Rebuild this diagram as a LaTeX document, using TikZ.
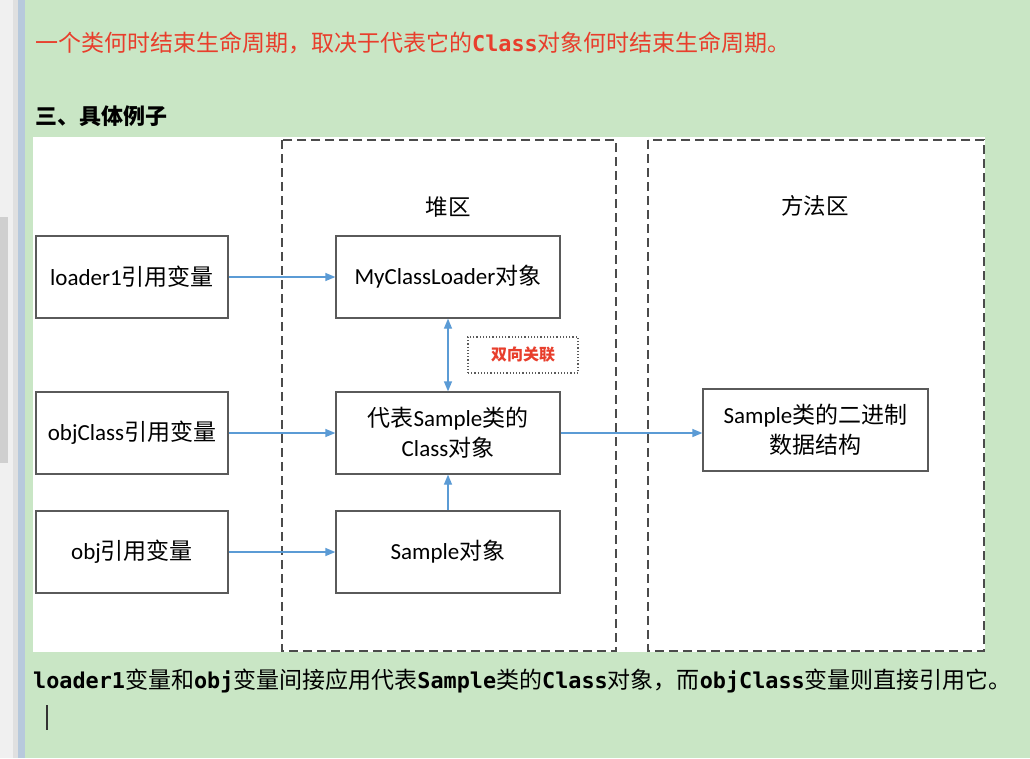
\documentclass[tikz,border=0pt]{standalone}
\usepackage{fontspec}
\setmainfont{Carlito}
\setmonofont{DejaVu Sans Mono}
\newfontfamily\cjk{Noto Sans CJK SC}
\usetikzlibrary{arrows.meta}
\definecolor{bggreen}{RGB}{201,230,197}
\definecolor{stripblue}{RGB}{183,201,220}
\definecolor{boxline}{RGB}{90,90,90}
\definecolor{dashline}{RGB}{75,75,75}
\definecolor{arrblue}{RGB}{91,155,213}
\definecolor{redtxt}{RGB}{232,62,44}
\newcommand{\zh}[1]{{\cjk #1}}
\newcommand{\mo}[1]{{\fontsize{21.8}{26}\selectfont\ttfamily\bfseries #1}}
\tikzset{
  membox/.style={draw=boxline, line width=1.3pt, fill=white, inner sep=0pt,
    minimum height=82pt, align=center, font=\fontsize{23}{30}\selectfont},
  varbox/.style={membox, minimum width=192pt},
  objbox/.style={membox, minimum width=224pt},
  area/.style={draw=dashline, line width=2.4pt, dash pattern=on 9pt off 5pt},
  arr/.style={draw=arrblue, line width=1.3pt, -{Triangle[length=10pt,width=8pt]}},
  arrboth/.style={draw=arrblue, line width=1.3pt, {Triangle[length=10pt,width=8pt]}-{Triangle[length=10pt,width=8pt]}},
  linetext/.style={anchor=west, inner sep=0pt, font=\fontsize{23}{28}\selectfont\cjk},
  arealabel/.style={font=\fontsize{22.5}{28}\selectfont\cjk, inner sep=0pt}
}
\begin{document}
\begin{tikzpicture}[x=1pt,y=-1pt]
\useasboundingbox (0,0) rectangle (1030,758);
% background
\fill[bggreen] (0,0) rectangle (1030,758);
\fill[white!94!black] (0,0) rectangle (13,758);
\fill[white!81!black] (0,217) rectangle (8,463);
\fill[white!88!black] (13,0) rectangle (18,758);
\fill[stripblue] (18,0) rectangle (25,758);
\fill[white] (33,137) rectangle (985,652);
% texts above and below
\node[linetext, text=redtxt] (t1) at (35,43) {一个类何时结束生命周期，取决于代表它的\mo{Class}对象何时结束生命周期。};
\node[linetext, font=\fontsize{22}{28}\selectfont\cjk\bfseries] (t2) at (35,116) {三、具体例子};
\node[linetext] (t3) at (33,681) {\mo{loader1}变量和\mo{obj}变量间接应用代表\mo{Sample}类的\mo{Class}对象，而\mo{objClass}变量则直接引用它。};
\coordinate (cur1) at (47,705);
\coordinate (cur2) at (47,730);
\draw[line width=1.5pt, black!80] (cur1) -- (cur2);
% areas
\draw[area] (282,140) rectangle (616,651);
\draw[area] (648,140) rectangle (984,651);
\node[arealabel] (heap) at (448,207) {堆区};
\node[arealabel] (meth) at (815,206) {方法区};
% variable boxes
\node[varbox] (l1) at (132,277) {loader1\zh{引用变量}};
\node[varbox] (oc) at (132,433) {objClass\zh{引用变量}};
\node[varbox] (ob) at (132,552) {obj\zh{引用变量}};
% heap objects
\node[objbox] (mcl) at (448,277) {MyClassLoader\zh{对象}};
\node[objbox] (cls) at (448,433) {\zh{代表}Sample\zh{类的}\\Class\zh{对象}};
\node[objbox] (smp) at (448,552) {Sample\zh{对象}};
% method area
\node[membox, minimum width=225pt] (bin) at (815.5,430) {Sample\zh{类的二进制}\\\zh{数据结构}};
% dotted label
\node[draw=boxline, dotted, line width=1.2pt, minimum width=110pt, minimum height=36pt,
  inner sep=0pt, text=redtxt, font=\fontsize{16}{18}\selectfont\cjk\bfseries] (rel) at (523,355) {双向关联};
% connectors
\draw[arr] (l1) -- (mcl);
\draw[arr] (oc) -- (cls);
\draw[arr] (ob) -- (smp);
\draw[arr] (smp) -- (cls);
\draw[arrboth] (mcl) -- (cls);
\draw[arr] (cls.east) -- (cls.east -| bin.west);
\end{tikzpicture}
\end{document}
